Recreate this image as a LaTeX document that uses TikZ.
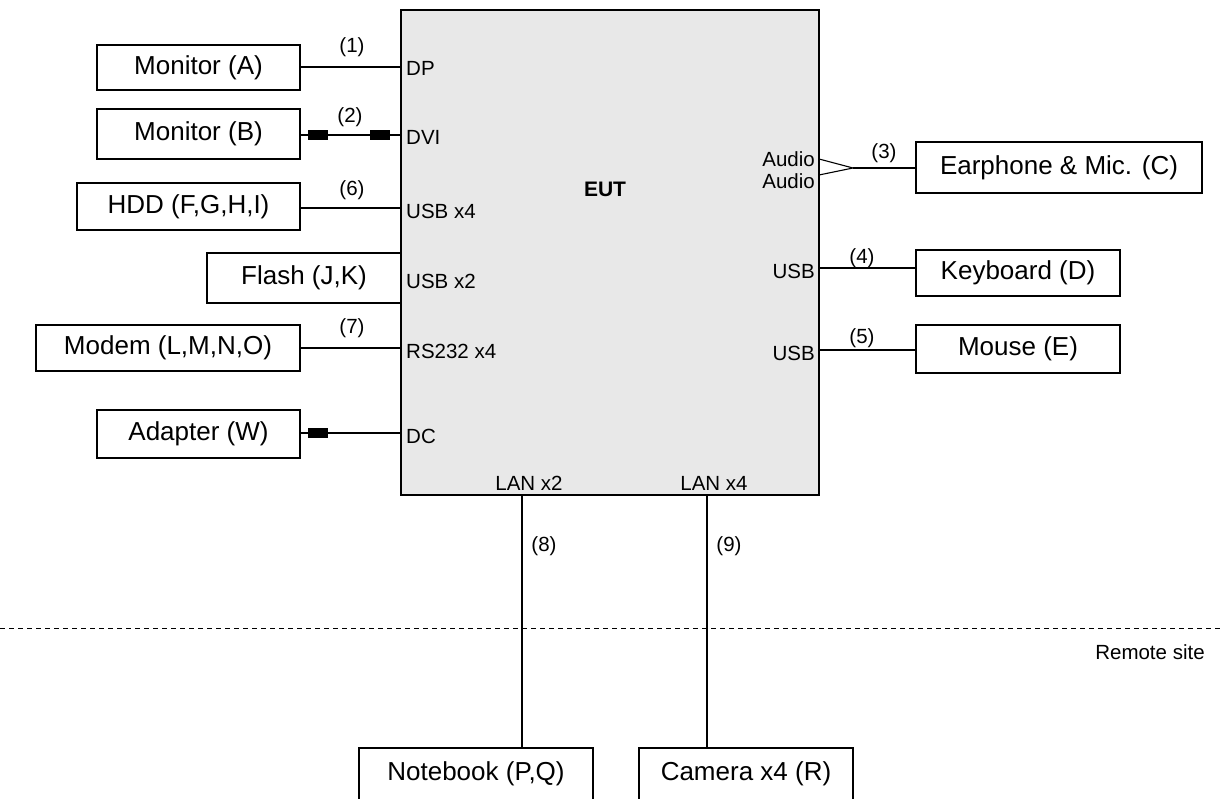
\documentclass[tikz,border=0pt]{standalone}
\usepackage{fontspec}
\setmainfont{Liberation Sans}
\definecolor{eutgray}{RGB}{232,232,232}
\begin{document}
\begin{tikzpicture}[x=1pt,y=-1pt,
  dev/.style={draw, line width=1.1pt, inner sep=0pt, font=\fontsize{26}{30}\selectfont},
  port/.style={inner sep=1pt, font=\fontsize{20.5}{24}\selectfont},
  cable/.style={line width=1.1pt},
  core/.style={fill=black, inner sep=0pt, minimum width=20pt, minimum height=10pt}]
\useasboundingbox (0,0) rectangle (1224,799);

% EUT body
\fill[eutgray] (401,10) rectangle (819,495);
\draw[line width=1.1pt] (401,10) rectangle (819,495);
\node[font=\fontsize{21}{25}\selectfont\bfseries] (eut) at (605,189) {EUT};

% Ports on EUT
\node[port, anchor=west] (pDP) at (405,68) {DP};
\node[port, anchor=west] (pDVI) at (405,137) {DVI};
\node[port, anchor=west] (pUSB4) at (405,211) {USB x4};
\node[port, anchor=west] (pUSB2) at (405,281) {USB x2};
\node[port, anchor=west] (pRS) at (405,351) {RS232 x4};
\node[port, anchor=west] (pDC) at (405,436) {DC};
\node[port, anchor=east] (pAu1) at (816,159) {Audio};
\node[port, anchor=east] (pAu2) at (816,181) {Audio};
\node[port, anchor=east] (pUSBk) at (816,271) {USB};
\node[port, anchor=east] (pUSBm) at (816,353) {USB};
\node[port] (pLAN2) at (529,483) {LAN x2};
\node[port] (pLAN4) at (714,483) {LAN x4};

\coordinate (cDP) at (401,67);
\coordinate (cDVI) at (401,135);
\coordinate (cUSB4) at (401,208);
\coordinate (cRS) at (401,348);
\coordinate (cDC) at (401,433);
\coordinate (cAu1) at (819,159);
\coordinate (cAu2) at (819,175);
\coordinate (cAuTip) at (853,168);
\coordinate (cUSBk) at (819,268);
\coordinate (cUSBm) at (819,350);
\coordinate (cLAN2) at (522,495);
\coordinate (cLAN4) at (707,495);

% Left side devices
\node[dev, minimum width=203pt, minimum height=45pt] (monA) at (198.5,67.5) {Monitor (A)};
\node[dev, minimum width=203pt, minimum height=50pt] (monB) at (198.5,134) {Monitor (B)};
\node[dev, minimum width=223pt, minimum height=47pt] (hdd) at (188.5,206.5) {HDD (F,G,H,I)};
\node[dev, minimum width=194pt, minimum height=50pt] (flash) at (304,278) {Flash (J,K)};
\node[dev, minimum width=264pt, minimum height=46pt] (modem) at (168,348) {Modem (L,M,N,O)};
\node[dev, minimum width=203pt, minimum height=48pt] (adp) at (198.5,434) {Adapter (W)};

% Right side devices
\node[dev, minimum width=286pt, minimum height=51pt] (earC) at (1059,167.5) {Earphone \& Mic. (C)};
\node[dev, minimum width=204pt, minimum height=46pt] (kbd) at (1018,273) {Keyboard (D)};
\node[dev, minimum width=204pt, minimum height=48pt] (mouse) at (1018,349) {Mouse (E)};

% Remote site devices
\node[dev, minimum width=234pt, minimum height=52pt] (nb) at (476,774) {Notebook (P,Q)};
\node[dev, minimum width=214pt, minimum height=52pt] (cam) at (746,774) {Camera x4 (R)};

% Cables
\draw[cable] (monA.east |- cDP) -- (cDP);
\draw[cable] (monB.east |- cDVI) -- (cDVI);
\draw[cable] (hdd.east |- cUSB4) -- (cUSB4);
\draw[cable] (modem.east |- cRS) -- (cRS);
\draw[cable] (adp.east |- cDC) -- (cDC);
\draw[cable] (cAu1) -- (cAuTip) -- (cAu2);
\draw[cable] (cAuTip) -- (earC.west |- cAuTip);
\draw[cable] (cUSBk) -- (kbd.west |- cUSBk);
\draw[cable] (cUSBm) -- (mouse.west |- cUSBm);
\draw[cable] (cLAN2) -- (cLAN2 |- nb.north);
\draw[cable] (cLAN4) -- (cLAN4 |- cam.north);

% Ferrite cores
\node[core] (fB1) at (318,135) {};
\node[core] (fB2) at (380,135) {};
\node[core] (fW) at (318,433) {};

% Cable numbers
\node[port] (n1) at (352,47) {(1)};
\node[port] (n2) at (350,117) {(2)};
\node[port] (n6) at (352,190) {(6)};
\node[port] (n7) at (352,328) {(7)};
\node[port] (n3) at (884,153) {(3)};
\node[port] (n4) at (862,258) {(4)};
\node[port] (n5) at (862,338) {(5)};
\node[port] (n8) at (544,546) {(8)};
\node[port] (n9) at (729,546) {(9)};

% Remote site border
\draw[line width=1pt, dash pattern=on 5pt off 4pt] (0,628) -- (1224,628);
\node[port] (remote) at (1150,652) {Remote site};
\end{tikzpicture}
\end{document}
